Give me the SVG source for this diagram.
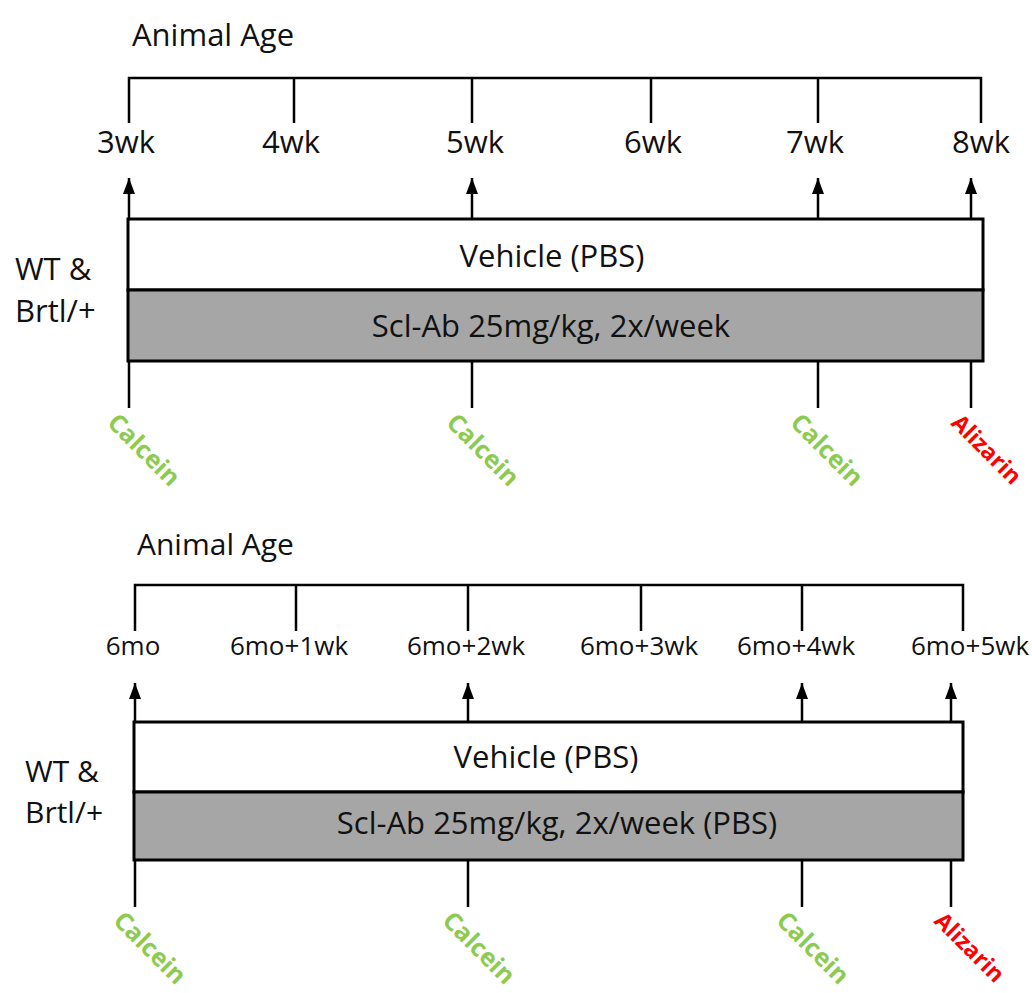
<svg xmlns="http://www.w3.org/2000/svg" width="1032" height="993" viewBox="0 0 1032 993">
<style>
text{font-family:"Open Sans","Liberation Sans",sans-serif;fill:#111}
.lbl{font-size:31px}
.sm{font-size:26px}
.mid{text-anchor:middle}
.ln{stroke:#000;stroke-width:2.5;fill:none}
.box{stroke:#000;stroke-width:3}
.ca{font-size:25px;font-weight:bold;fill:#8ccb50}
.al{font-size:23px;font-weight:bold;fill:#ff0000}
</style>
<defs>
<marker id="ah" markerUnits="userSpaceOnUse" markerWidth="18" markerHeight="12" refX="16" refY="6" orient="auto">
<path d="M0,0 L16,6 L0,12 Z" fill="#000"/>
</marker>
</defs>
<rect width="1032" height="993" fill="#fff"/>

<!-- Top panel -->
<g id="top-axis">
<text class="lbl" x="132" y="46">Animal Age</text>
<text class="lbl mid" x="126" y="153">3wk</text>
<text class="lbl mid" x="291" y="153">4wk</text>
<text class="lbl mid" x="475" y="153">5wk</text>
<text class="lbl mid" x="653" y="153">6wk</text>
<text class="lbl mid" x="815" y="153">7wk</text>
<text class="lbl mid" x="981" y="153">8wk</text>
</g>
<g id="top-group">
<text class="lbl" x="15" y="280">WT &amp;</text>
<text class="lbl" x="15" y="322">Brtl/+</text>
</g>
<g id="top-vehicle">
<rect class="box" x="128" y="219" width="855" height="71" fill="#fff"/>
<text class="lbl mid" x="552" y="267">Vehicle (PBS)</text>
</g>
<g id="top-sclab">
<rect class="box" x="128" y="290" width="855" height="71" fill="#a6a6a6"/>
<text class="lbl mid" x="551" y="337">Scl-Ab 25mg/kg, 2x/week</text>
</g>
<g id="top-labels">
<text class="ca" transform="translate(106,424) rotate(45)">Calcein</text>
<text class="ca" transform="translate(445,424) rotate(45)">Calcein</text>
<text class="ca" transform="translate(789,424) rotate(45)">Calcein</text>
<text class="al" transform="translate(950,424) rotate(45)">Alizarin</text>
</g>

<!-- Bottom panel -->
<g id="bottom-axis">
<text class="lbl" x="137" y="555" style="font-size:30px">Animal Age</text>
<text class="sm mid" x="133" y="655">6mo</text>
<text class="sm mid" x="289" y="655">6mo+1wk</text>
<text class="sm mid" x="466" y="655">6mo+2wk</text>
<text class="sm mid" x="639" y="655">6mo+3wk</text>
<text class="sm mid" x="796" y="655">6mo+4wk</text>
<text class="sm mid" x="970" y="655">6mo+5wk</text>
</g>
<g id="bottom-group">
<text class="lbl" x="25" y="782" style="font-size:30px">WT &amp;</text>
<text class="lbl" x="25" y="823" style="font-size:30px">Brtl/+</text>
</g>
<g id="bottom-vehicle">
<rect class="box" x="134" y="722" width="829" height="70" fill="#fff"/>
<text class="lbl mid" x="546" y="768">Vehicle (PBS)</text>
</g>
<g id="bottom-sclab">
<rect class="box" x="134" y="792" width="829" height="68" fill="#a6a6a6"/>
<text class="lbl mid" x="557" y="834">Scl-Ab 25mg/kg, 2x/week (PBS)</text>
</g>
<g id="bottom-labels">
<text class="ca" transform="translate(112,922) rotate(45)">Calcein</text>
<text class="ca" transform="translate(441,922) rotate(45)">Calcein</text>
<text class="ca" transform="translate(775,922) rotate(45)">Calcein</text>
<text class="al" transform="translate(933,922) rotate(45)">Alizarin</text>
</g>

<g id="connectors">
<path class="ln" d="M129,123 V78 H981 V123"/>
<path class="ln" d="M294,78 V123 M472,78 V123 M651,78 V123 M818,78 V123"/>
<path class="ln" d="M129,218 V178" marker-end="url(#ah)"/>
<path class="ln" d="M472,218 V178" marker-end="url(#ah)"/>
<path class="ln" d="M818,218 V178" marker-end="url(#ah)"/>
<path class="ln" d="M971,218 V178" marker-end="url(#ah)"/>
<path class="ln" d="M129,361 V408 M472,361 V408 M818,361 V408 M971,361 V408"/>
<path class="ln" d="M135,631 V585 H963 V631"/>
<path class="ln" d="M296,585 V631 M468,585 V631 M641,585 V631 M802,585 V631"/>
<path class="ln" d="M135,721 V683" marker-end="url(#ah)"/>
<path class="ln" d="M468,721 V683" marker-end="url(#ah)"/>
<path class="ln" d="M802,721 V683" marker-end="url(#ah)"/>
<path class="ln" d="M951,721 V683" marker-end="url(#ah)"/>
<path class="ln" d="M135,860 V907 M468,860 V907 M802,860 V907 M951,860 V907"/>
</g>
</svg>
